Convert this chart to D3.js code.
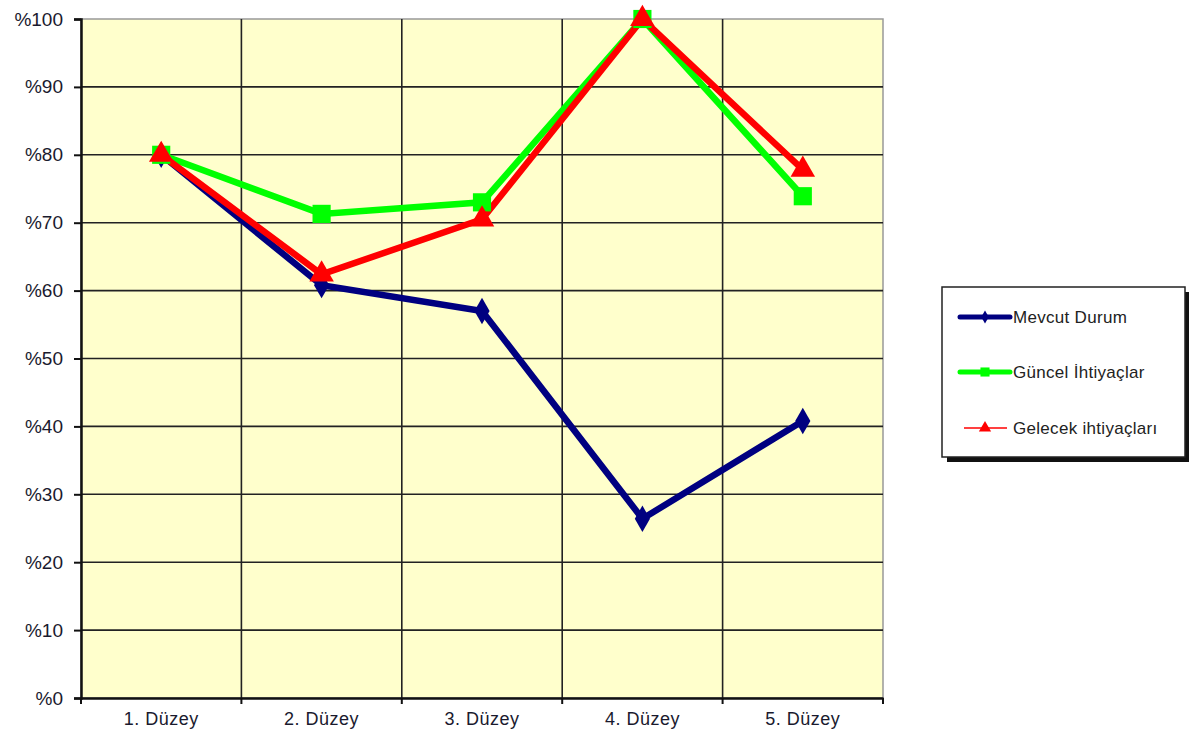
<!DOCTYPE html>
<html>
<head>
<meta charset="utf-8">
<script src="https://cdn.jsdelivr.net/npm/d3@7"></script>
<style>
  body { margin: 0; background: #fff; }
  svg { display: block; font-family: "Liberation Sans", Arial, sans-serif; }
</style>
</head>
<body>
<div id="chart"></div>
<script>
// Data
const categories = ["1. Düzey", "2. Düzey", "3. Düzey", "4. Düzey", "5. Düzey"];
const mevcutDurum = [80, 60.8, 57.0, 26.4, 40.8];
const guncelIhtiyaclar = [80, 71.3, 73.0, 100, 73.9];
const gelecekIhtiyaclari = [80, 62.4, 70.5, 100, 77.8];
const yTicks = [0, 10, 20, 30, 40, 50, 60, 70, 80, 90, 100];

const series = [
  { name: "Mevcut Durum", values: mevcutDurum, color: "#000080", symbol: d3.symbolDiamond, size: 200, legendWidth: 5 },
  { name: "Güncel İhtiyaçlar", values: guncelIhtiyaclar, color: "#00ff00", symbol: d3.symbolSquare, size: 330, legendWidth: 5 },
  { name: "Gelecek ihtiyaçları", values: gelecekIhtiyaclari, color: "#ff0000", symbol: d3.symbolTriangle, size: 260, legendWidth: 1.5 }
];

const width = 1189, height = 735;
const margin = { top: 19, right: 306, bottom: 37, left: 81 };
const innerWidth = width - margin.left - margin.right;
const innerHeight = height - margin.top - margin.bottom;

const svg = d3.select("#chart")
  .append("svg")
  .attr("width", width)
  .attr("height", height);

const g = svg.append("g")
  .attr("transform", `translate(${margin.left},${margin.top})`);

// Scales
const xScale = d3.scaleBand()
  .domain(categories)
  .range([0, innerWidth]);

const yScale = d3.scaleLinear()
  .domain([0, 100])
  .range([innerHeight, 0]);

// Plot background
g.append("rect")
  .attr("width", innerWidth)
  .attr("height", innerHeight)
  .attr("fill", "#ffffcc")
  .attr("stroke", "#999")
  .attr("stroke-width", 1.5);

// Horizontal grid
g.selectAll(".hgrid")
  .data(yTicks.filter(d => d > 0 && d < 100))
  .join("line")
  .attr("x1", 0)
  .attr("x2", innerWidth)
  .attr("y1", d => yScale(d))
  .attr("y2", d => yScale(d))
  .attr("stroke", "#222")
  .attr("stroke-width", 1.6);

// Vertical grid (category boundaries)
g.selectAll(".vgrid")
  .data(categories.slice(1))
  .join("line")
  .attr("x1", d => xScale(d))
  .attr("x2", d => xScale(d))
  .attr("y1", 0)
  .attr("y2", innerHeight)
  .attr("stroke", "#222")
  .attr("stroke-width", 1.6);

// Y axis
const yAxis = g.append("g")
  .call(d3.axisLeft(yScale).tickValues(yTicks).tickSize(7).tickPadding(11).tickFormat(d => "%" + d));
yAxis.select(".domain").attr("stroke", "#111").attr("stroke-width", 2.5);
yAxis.selectAll(".tick line").attr("stroke", "#111").attr("stroke-width", 2);
yAxis.selectAll("text").style("font-size", "19px").attr("fill", "#1a1a2e");

// X axis
const xAxis = g.append("g")
  .attr("transform", `translate(0,${innerHeight})`)
  .call(d3.axisBottom(xScale).tickSize(0).tickPadding(14));
xAxis.select(".domain").attr("stroke", "#111").attr("stroke-width", 2.5);
xAxis.selectAll("text").style("font-size", "18px").style("letter-spacing", "0.5px").attr("fill", "#1a1a2e");

// X tick marks at category boundaries
g.selectAll(".xtick")
  .data(xScale.domain().map(d => xScale(d)).concat([innerWidth]))
  .join("line")
  .attr("x1", d => d)
  .attr("x2", d => d)
  .attr("y1", innerHeight)
  .attr("y2", innerHeight + 6)
  .attr("stroke", "#111")
  .attr("stroke-width", 2);

// Lines
const line = d3.line()
  .x((d, i) => xScale(categories[i]) + xScale.bandwidth() / 2)
  .y(d => yScale(d));

series.forEach(s => {
  g.append("path")
    .attr("d", line(s.values))
    .attr("fill", "none")
    .attr("stroke", s.color)
    .attr("stroke-width", 6.5)
    .attr("stroke-linejoin", "miter");
});

series.forEach(s => {
  g.selectAll(null)
    .data(s.values)
    .join("path")
    .attr("transform", (d, i) => `translate(${xScale(categories[i]) + xScale.bandwidth() / 2},${yScale(d)})`)
    .attr("d", d3.symbol().type(s.symbol).size(s.size))
    .attr("fill", s.color);
});

// Legend
const legend = svg.append("g").attr("transform", "translate(942,287)");
legend.append("rect")
  .attr("x", 5).attr("y", 5)
  .attr("width", 243).attr("height", 170)
  .attr("fill", "#111");
legend.append("rect")
  .attr("width", 243).attr("height", 170)
  .attr("fill", "#fff")
  .attr("stroke", "#222")
  .attr("stroke-width", 1.5);

const rowY = [30, 85, 141];
series.forEach((s, i) => {
  const row = legend.append("g").attr("transform", `translate(0,${rowY[i]})`);
  row.append("line")
    .attr("x1", s.legendWidth > 2 ? 18 : 22).attr("x2", s.legendWidth > 2 ? 68 : 65)
    .attr("stroke", s.color)
    .attr("stroke-width", s.legendWidth)
    .attr("stroke-linecap", s.legendWidth > 2 ? "round" : "butt");
  row.append("path")
    .attr("transform", "translate(43,0)")
    .attr("d", d3.symbol().type(s.symbol).size(s.size * 0.25))
    .attr("fill", s.color);
  row.append("text")
    .attr("x", 71)
    .attr("y", 6)
    .style("font-size", "17px")
    .style("letter-spacing", "0.3px")
    .attr("fill", "#222")
    .text(s.name);
});
</script>
</body>
</html>
